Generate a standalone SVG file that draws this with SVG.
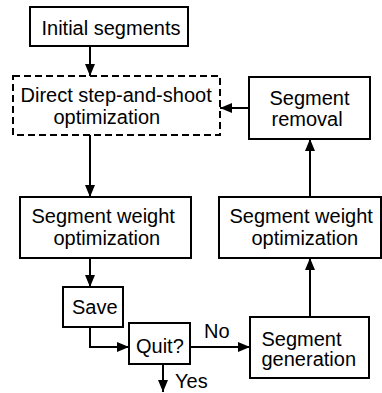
<svg xmlns="http://www.w3.org/2000/svg" width="382" height="393" viewBox="0 0 382 393">
  <style>
    .box { fill: #fff; stroke: #000; stroke-width: 2; }
    .dash { stroke-dasharray: 7 4; }
    .lbl { font-family: "Liberation Sans", Arial, sans-serif; font-size: 20px; fill: #000; }
    .wire { fill: none; stroke: #000; stroke-width: 2; }
  </style>
  <defs>
    <marker id="arrow" markerUnits="userSpaceOnUse" markerWidth="12" markerHeight="10" refX="12" refY="5" orient="auto">
      <path d="M0,0 L12,5 L0,10 z" fill="#000"/>
    </marker>
  </defs>
  <rect width="382" height="393" fill="#fff"/>

  <g id="connectors">
    <path class="wire" d="M90,46 V76" marker-end="url(#arrow)"/>
    <path class="wire" d="M90,135 V197" marker-end="url(#arrow)"/>
    <path class="wire" d="M90,258 V287" marker-end="url(#arrow)"/>
    <path class="wire" d="M90,327 V347 H129" marker-end="url(#arrow)"/>
    <path class="wire" d="M190,347 H250" marker-end="url(#arrow)"/>
    <path class="wire" d="M163,364 V392" marker-end="url(#arrow)"/>
    <path class="wire" d="M310,317 V258" marker-end="url(#arrow)"/>
    <path class="wire" d="M310,197 V139" marker-end="url(#arrow)"/>
    <path class="wire" d="M249,108 H220" marker-end="url(#arrow)"/>
  </g>

  <g id="initial-segments">
    <rect class="box" x="30" y="7" width="158" height="39"/>
    <text class="lbl" x="41.5" y="34.5">Initial segments</text>
  </g>

  <g id="direct-sas">
    <rect class="box dash" x="13" y="76" width="207" height="59"/>
    <text class="lbl" x="20.5" y="102">Direct step-and-shoot</text>
    <text class="lbl" x="53.5" y="124">optimization</text>
  </g>

  <g id="segment-removal">
    <rect class="box" x="249" y="77" width="121" height="62"/>
    <text class="lbl" x="269.5" y="105">Segment</text>
    <text class="lbl" x="271.5" y="126">removal</text>
  </g>

  <g id="weight-opt-left">
    <rect class="box" x="20" y="197" width="171" height="61"/>
    <text class="lbl" x="31.5" y="223">Segment weight</text>
    <text class="lbl" x="53.5" y="245">optimization</text>
  </g>

  <g id="weight-opt-right">
    <rect class="box" x="219" y="197" width="162" height="61"/>
    <text class="lbl" x="229.5" y="223">Segment weight</text>
    <text class="lbl" x="251.5" y="245">optimization</text>
  </g>

  <g id="save">
    <rect class="box" x="63" y="287" width="60" height="40"/>
    <text class="lbl" x="72" y="314">Save</text>
  </g>

  <g id="quit">
    <rect class="box" x="129" y="323" width="61" height="41"/>
    <text class="lbl" x="136" y="352.5">Quit?</text>
    <text class="lbl" x="204" y="338">No</text>
    <text class="lbl" x="175" y="388">Yes</text>
  </g>

  <g id="segment-generation">
    <rect class="box" x="250" y="317" width="119" height="61"/>
    <text class="lbl" x="261.5" y="346">Segment</text>
    <text class="lbl" x="261.5" y="366">generation</text>
  </g>
</svg>
